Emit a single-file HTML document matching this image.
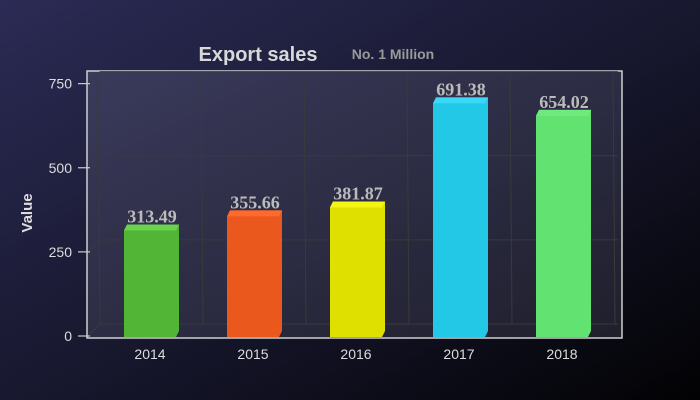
<!DOCTYPE html>
<html><head><meta charset="utf-8"><style>
body{margin:0;width:700px;height:400px;overflow:hidden;background:#000}
svg{display:block}
</style></head><body>
<svg width="700" height="400" xmlns="http://www.w3.org/2000/svg">
<defs>
<linearGradient id="bg" x1="0" y1="0" x2="1" y2="1"><stop offset="0" stop-color="#2b2b55"/><stop offset="0.6" stop-color="#141428"/><stop offset="1" stop-color="#020204"/></linearGradient>
<linearGradient id="pa" x1="0" y1="0" x2="1" y2="1"><stop offset="0" stop-color="#3a3a5c"/><stop offset="1" stop-color="#1f1f2c"/></linearGradient>
</defs>
<rect width="700" height="400" fill="url(#bg)"/>
<rect x="87" y="71" width="535" height="267" fill="url(#pa)" stroke="#cfcfcf" stroke-width="1.5"/>
<text x="258" y="61" text-anchor="middle" font-family="Liberation Sans, sans-serif" font-weight="bold" font-size="20" fill="#d8d8d8">Export sales</text>
<text x="393" y="59" text-anchor="middle" font-family="Liberation Sans, sans-serif" font-weight="bold" font-size="14" fill="#9a9a9a">No. 1 Million</text>
<text x="32" y="213" text-anchor="middle" transform="rotate(-90 32 213)" font-family="Liberation Sans, sans-serif" font-weight="bold" font-size="15" fill="#dddddd">Value</text>
<g id="grid"></g><g id="yt"></g><g id="bars"></g><g id="xt"></g>
</svg>
<script>
const categories=["2014","2015","2016","2017","2018"];
const values=[313.49,355.66,381.87,691.38,654.02];
const yTicks=[0,250,500,750];
const colors=["#52b535","#ea581e","#e0e000","#22c8e6","#62e270"];
const tops=["#6ad24c","#ff6a2c","#f5f515","#38d8f6","#70ea7e"];
const NS="http://www.w3.org/2000/svg";
const y=v=>336-v*0.3365;
const x=i=>150+i*103;
function mk(t,a,p){const e=document.createElementNS(NS,t);for(const k in a)e.setAttribute(k,a[k]);p.appendChild(e);return e;}
const g=document.getElementById('grid'),yt=document.getElementById('yt'),b=document.getElementById('bars'),xt=document.getElementById('xt');
yTicks.forEach(v=>{
 const l=mk('line',{x1:100,x2:618,y1:y(v)-12,y2:y(v)-12,stroke:'#3a3a3a','stroke-width':1},g);
 
 
 const d=mk('line',{x1:88,x2:100,y1:y(v),y2:y(v)-12,stroke:'#3a3a3a'},g);
 
 
 const tk=mk('line',{x1:78,x2:90,y1:y(v),y2:y(v),stroke:'#cccccc','stroke-width':1.2},yt);
 
 
 const t=mk('text',{x:72,y:y(v)+5,'text-anchor':'end','font-family':'Liberation Sans, sans-serif','font-size':14,fill:'#dddddd'},yt);
 t.textContent=v;
 
 
});
for(let i=0;i<=5;i++){const gx=98+i*103;
 const l=mk('line',{x1:gx,x2:gx+2,y1:75,y2:324,stroke:'#3a3a3a'},g);
 
 }
values.forEach((v,i)=>{
 const cx=x(i),w=52,L=cx-w/2,R=cx+w/2,T=y(v),B=337;
 const grp=mk('g',{},b);
 
 
 mk('polygon',{points:`${L},${B} ${R},${B} ${R+3},${B-6} ${R+3},${T-6} ${L+3},${T-6} ${L},${T}`,fill:colors[i]},grp);
 mk('polygon',{points:`${L},${T} ${L+3},${T-6} ${R+3},${T-6} ${R},${T}`,fill:tops[i]},grp);
 const t=mk('text',{x:cx+2,y:T-8,'text-anchor':'middle','font-family':'Liberation Serif, serif','font-weight':'bold','font-size':18,fill:'#bbbbbb'},b);
 t.textContent=v.toFixed(2);
 
 
 const c=mk('text',{x:cx,y:359,'text-anchor':'middle','font-family':'Liberation Sans, sans-serif','font-size':14,fill:'#dddddd'},xt);
 c.textContent=categories[i];
 
 
});
</script>
</body></html>
